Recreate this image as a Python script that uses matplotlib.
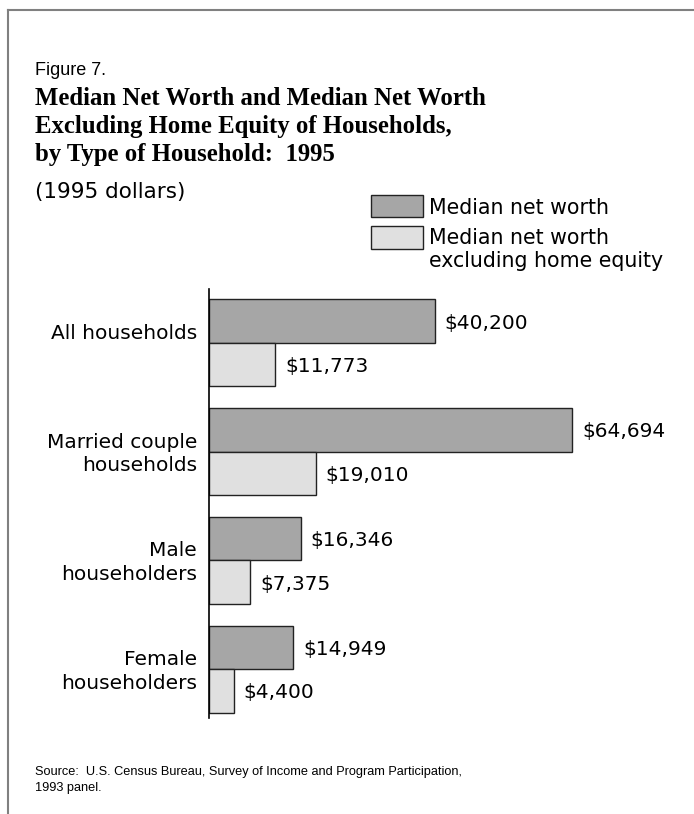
import matplotlib
matplotlib.use("Agg")
import matplotlib.pyplot as plt
from matplotlib.patches import Rectangle
from matplotlib.lines import Line2D
from matplotlib.transforms import ScaledTranslation

categories = ["All households", "Married couple\nhouseholds", "Male\nhouseholders", "Female\nhouseholders"]
net_worth = [40200, 64694, 16346, 14949]
net_worth_ex_home = [11773, 19010, 7375, 4400]
series_names = ["Median net worth", "Median net worth\nexcluding home equity"]

W, H = 694, 814
fig = plt.figure(figsize=(W / 100, H / 100), dpi=100)

def fx(px):
    return px / W

def fy(py):
    return 1 - py / H

def lines_at(x, baselines, text, **kw):
    for b, line in zip(baselines, text.split("\n")):
        fig.text(fx(x), fy(b), line, va="baseline", **kw)

# frame (top and left)
fig.add_artist(Line2D([fx(8), 1.0], [fy(10), fy(10)], color="#808080", lw=1.5))
fig.add_artist(Line2D([fx(8), fx(8)], [fy(10), 0.0], color="#808080", lw=1.5))

sans = ["DejaVu Sans"]
narrow = ["Liberation Sans", "DejaVu Sans"]
lines_at(35, [75], "Figure 7.", fontsize=13, family=narrow)
title = "Median Net Worth and Median Net Worth\nExcluding Home Equity of Households,\nby Type of Household:  1995"
lines_at(35, [105, 133, 161], title, fontsize=17.8, family=["Liberation Serif", "DejaVu Serif"], weight="bold")
lines_at(35, [198], "(1995 dollars)", fontsize=15.5, family=sans)

# axes
left, right = 209, 658
top, bottom = 289, 718
ax = fig.add_axes([fx(left), fy(bottom), fx(right) - fx(left), (bottom - top) / H])
xmax = (right - left) / ((572 - 209) / 64694)
ax.set_xlim(0, xmax)
ax.set_ylim(3.45, -0.495)

bh = 0.4
ypos = list(range(len(categories)))
dark = "#a6a6a6"
light = "#e0e0e0"
ax.barh([y - bh / 2 for y in ypos], net_worth, height=bh, color=dark, edgecolor="#222222", lw=1.0)
ax.barh([y + bh / 2 for y in ypos], net_worth_ex_home, height=bh, color=light, edgecolor="#222222", lw=1.0)

off = ScaledTranslation(0, -1.5 / 72, fig.dpi_scale_trans)
for y, v in zip(ypos, net_worth):
    ax.text(v + 1800, y - bh / 2, f"${v:,}", fontsize=14.5, family=sans, va="center", ha="left",
            transform=ax.transData + off)
for y, v in zip(ypos, net_worth_ex_home):
    ax.text(v + 1800, y + bh / 2, f"${v:,}", fontsize=14.5, family=sans, va="center", ha="left",
            transform=ax.transData + off)

for s in ["top", "right", "bottom"]:
    ax.spines[s].set_visible(False)
ax.spines["left"].set_linewidth(1.2)
ax.set_xticks([])
ax.set_yticks([])

# category labels: first line baseline slightly above the group centre, next lines below
ylab = ax.get_yaxis_transform()
for y, lab in zip(ypos, categories):
    for i, line in enumerate(lab.split("\n")):
        dy = (4 - 23.5 * i) / 100  # pixels -> inches at dpi 100
        tr = ylab + ScaledTranslation(-12 / 100, dy, fig.dpi_scale_trans)
        ax.text(0, y, line, fontsize=14.5, family=sans, ha="right", va="baseline", transform=tr)

# legend
fig.add_artist(Rectangle((fx(371), fy(217)), fx(423) - fx(371), (217 - 195) / H,
                         facecolor=dark, edgecolor="#222222", lw=1.0))
fig.add_artist(Rectangle((fx(371), fy(249)), fx(423) - fx(371), (249 - 226) / H,
                         facecolor=light, edgecolor="#222222", lw=1.0))
lines_at(429, [214], series_names[0], fontsize=14.8, family=sans)
lines_at(429, [244, 267], series_names[1], fontsize=14.8, family=sans)

lines_at(35, [775, 791], "Source:  U.S. Census Bureau, Survey of Income and Program Participation,\n1993 panel.",
         fontsize=9.2, family=narrow)

fig.savefig("out.png", dpi=100, facecolor="white")
